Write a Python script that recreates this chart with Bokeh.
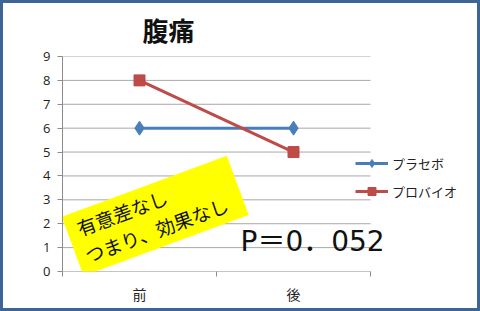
from bokeh.plotting import figure
from bokeh.models import (Range1d, FixedTicker, Label, Legend, LegendItem)
from bokeh.embed import file_html
from bokeh.resources import INLINE

# ---- data ----
categories = ["前", "後"]
placebo = [6, 6]
probiotic = [8, 5]
series_names = ["プラセボ", "プロバイオ"]
y_ticks = [0, 1, 2, 3, 4, 5, 6, 7, 8, 9]
title_text = "腹痛"
note_lines = ["有意差なし", "つまり、効果なし"]
p_text = "P＝0．052"

JP = "Noto Sans CJK JP"
BLUE = "#4A7EBB"
RED = "#BE4B48"
AXIS = "#8C8C8C"
GRID = "#A8A8A8"

n = len(categories)
xs = [i + 0.5 for i in range(n)]

# frame spans the chart area plus the legend zone on the right (x beyond n)
p = figure(width=480, height=311, output_backend="svg", toolbar_location=None,
           x_range=Range1d(0, n * 421 / 308), y_range=Range1d(0, 9),
           min_border_left=59, min_border_right=0, min_border_top=53,
           min_border_bottom=43)
p.styles = {"border": "3px solid #3D6497", "box-sizing": "border-box"}
p.outline_line_color = None
p.background_fill_color = "white"
p.border_fill_color = "white"

# title
p.title.text = title_text
p.title.text_font = JP
p.title.text_font_size = "26px"
p.title.text_font_style = "bold"
p.title.text_color = "#111111"
p.title.vertical_align = "top"
p.title.align = "left"
p.title.offset = 80
p.title.standoff = 14

# axes
p.yaxis.ticker = FixedTicker(ticks=y_ticks)
p.yaxis.axis_line_color = AXIS
p.yaxis.major_tick_line_color = AXIS
p.yaxis.major_tick_out = 5
p.yaxis.major_tick_in = 0
p.yaxis.minor_tick_line_color = None
p.yaxis.major_label_text_font = "Open Sans"
p.yaxis.major_label_text_font_size = "13px"
p.yaxis.major_label_text_color = "#222222"
p.yaxis.major_label_standoff = 7

p.xaxis.ticker = FixedTicker(ticks=xs, minor_ticks=list(range(n + 1)))
p.xaxis.major_label_overrides = {x: c for x, c in zip(xs, categories)}
p.xaxis.axis_line_color = None
p.xaxis.major_tick_line_color = None
p.xaxis.major_tick_out = 0
p.xaxis.major_tick_in = 0
p.xaxis.minor_tick_line_color = AXIS
p.xaxis.minor_tick_out = 5
p.xaxis.minor_tick_in = 0
p.xaxis.major_label_text_font = JP
p.xaxis.major_label_text_font_size = "14px"
p.xaxis.major_label_text_color = "#222222"
p.xaxis.major_label_standoff = 7

# gridlines and category-axis line limited to the category span
p.xgrid.grid_line_color = None
p.ygrid.grid_line_color = None
p.segment(x0=[0] * (len(y_ticks) - 1), x1=[n] * (len(y_ticks) - 1),
          y0=y_ticks[1:], y1=y_ticks[1:], line_color=GRID, line_width=1)
p.segment(x0=[0], x1=[n], y0=[y_ticks[0]], y1=[y_ticks[0]],
          line_color=AXIS, line_width=1)

# yellow note box (annotation)
p.rect(x=[0.602], y=[2.33], width=176, height=63, width_units="screen",
       height_units="screen", angle=0.354, fill_color="#FFFF00",
       line_color=None)

# series
r1l = p.line(xs, placebo, line_color=BLUE, line_width=3)
r1m = p.scatter(xs, placebo, marker="diamond", size=14, fill_color=BLUE,
                line_color=BLUE)
r2l = p.line(xs, probiotic, line_color=RED, line_width=3)
r2m = p.scatter(xs, probiotic, marker="square", size=11, fill_color=RED,
                line_color=RED)

legend = Legend(items=[LegendItem(label=series_names[0], renderers=[r1l, r1m]),
                       LegendItem(label=series_names[1], renderers=[r2l, r2m])],
                location=(293, 70), orientation="vertical",
                padding=0, margin=0, spacing=8, glyph_width=33,
                glyph_height=20, label_height=20, label_standoff=4,
                label_text_font=JP, label_text_font_size="13px",
                label_text_color="#222222",
                background_fill_alpha=0, border_line_alpha=0)
p.add_layout(legend, "center")

# note text
p.add_layout(Label(x=15, y=43, x_units="screen", y_units="screen",
                   text=note_lines[0], angle=0.354, text_font=JP,
                   text_font_size="19px", text_align="left",
                   text_baseline="middle", text_color="#111111"))
p.add_layout(Label(x=23, y=16, x_units="screen", y_units="screen",
                   text=note_lines[1], angle=0.354, text_font=JP,
                   text_font_size="19px", text_align="left",
                   text_baseline="middle", text_color="#111111"))

# p-value
p.add_layout(Label(x=178, y=30, x_units="screen", y_units="screen",
                   text=p_text, text_font="DejaVu Sans, Noto Sans CJK JP",
                   text_font_size="28px", text_align="left",
                   text_baseline="middle", text_color="#111111"))

open("out.html", "w").write(file_html(p, INLINE))
